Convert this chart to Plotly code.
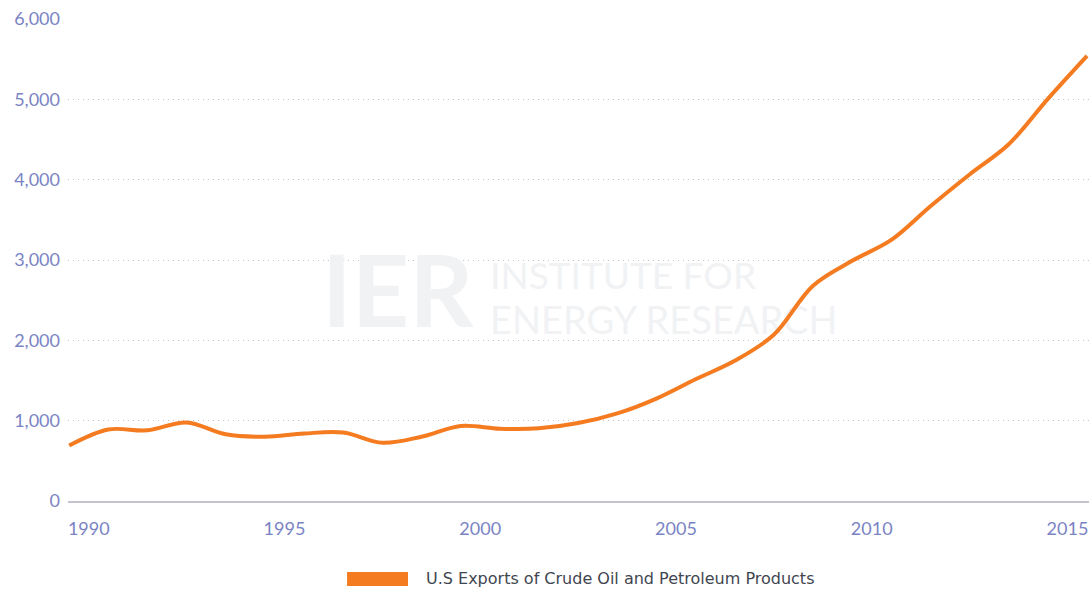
import plotly.graph_objects as go

# ---- data (thousand barrels per day), annual values plotted at mid-year ----
years = [1989, 1990, 1991, 1992, 1993, 1994, 1995, 1996, 1997, 1998, 1999,
         2000, 2001, 2002, 2003, 2004, 2005, 2006, 2007, 2008, 2009, 2010,
         2011, 2012, 2013, 2014, 2015]
exports = [690, 890, 880, 978, 830, 800, 840, 852, 725, 800, 935,
           900, 905, 970, 1090, 1275, 1515, 1745, 2070, 2680, 2990, 3250,
           3670, 4065, 4440, 5005, 5540]
series_name = "U.S Exports of Crude Oil and Petroleum Products"
x_tick_years = [1990, 1995, 2000, 2005, 2010, 2015]
y_ticks = [0, 1000, 2000, 3000, 4000, 5000, 6000]

ORANGE = "#f47b20"
TICK_COLOR = "#7a84c4"
FONT = "Lato"

x_mid = [y + 0.5 for y in years]

fig = go.Figure()

# watermark (drawn first so the data line is on top)
wm_gray = "#f1f2f4"
fig.add_trace(go.Scatter(
    x=[1995.96], y=[2477], mode="text", text=["<b>IER</b>"],
    textposition="middle right",
    textfont=dict(family=FONT, size=100, color=wm_gray),
    hoverinfo="skip", showlegend=False))
fig.add_trace(go.Scatter(
    x=[2000.25], y=[2751], mode="text",
    text=["INSTITUTE FOR"],
    textposition="middle right",
    textfont=dict(family=FONT, size=37, color=wm_gray),
    hoverinfo="skip", showlegend=False))
fig.add_trace(go.Scatter(
    x=[2000.25], y=[2191], mode="text",
    text=["ENERGY RESEARCH"],
    textposition="middle right",
    textfont=dict(family=FONT, size=38, color=wm_gray),
    hoverinfo="skip", showlegend=False))

fig.add_trace(go.Scatter(
    x=x_mid, y=exports, mode="lines", name=series_name,
    line=dict(color=ORANGE, width=4, shape="spline", smoothing=1.0),
    hoverinfo="skip", showlegend=False))

# manual legend
fig.add_shape(type="rect", xref="paper", yref="paper",
              x0=0.2733, x1=0.3330, y0=-0.1763, y1=-0.1473,
              fillcolor=ORANGE, line=dict(width=0))
fig.add_annotation(xref="paper", yref="paper", x=0.3487, y=-0.1618,
                   xanchor="left", yanchor="middle", showarrow=False,
                   text=series_name,
                   font=dict(family="DejaVu Sans", size=16, color="#3f4650"))

fig.update_layout(
    width=1089, height=590,
    margin=dict(l=68, r=0, t=19, b=89),
    paper_bgcolor="white", plot_bgcolor="white",
    hovermode=False,
    xaxis=dict(
        range=[1989.47, 2015.55],
        tickvals=x_tick_years, ticktext=[str(v) for v in x_tick_years],
        showgrid=False, zeroline=False,
        showline=True, linecolor="#c2c3cf", linewidth=2,
        ticks="", ticklabelstandoff=10,
        tickfont=dict(family=FONT, size=18, color=TICK_COLOR),
    ),
    yaxis=dict(
        range=[0, 6000],
        tickvals=y_ticks, ticktext=[f"{v:,}" for v in y_ticks],
        showgrid=True, gridcolor="#c4c4c8", gridwidth=1, griddash="1px,4px",
        zeroline=False, showline=False,
        ticks="", ticklabelstandoff=7,
        tickfont=dict(family=FONT, size=18, color=TICK_COLOR),
    ),
)

fig.write_html("out.html", config={"displayModeBar": False},
               post_script="document.body.style.margin='0';")
